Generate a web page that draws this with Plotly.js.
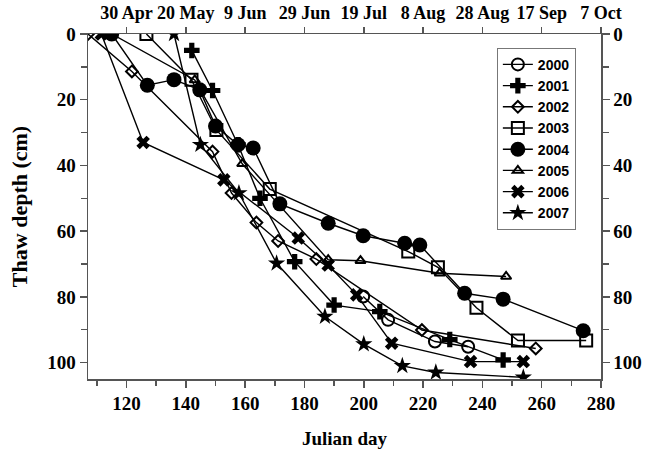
<!DOCTYPE html>
<html>
<head>
<meta charset="utf-8">
<script src="https://cdn.plot.ly/plotly-3.0.1.min.js"></script>
<style>html,body{margin:0;padding:0;background:#fff;}#chart{width:649px;height:453px;}</style>
</head>
<body>
<div id="chart"></div>
<script>
// Julian day / thaw depth (cm) per year
const years = ['2000','2001','2002','2003','2004','2005','2006','2007'];
const day2000 = [199.8, 208.2, 224, 235.2];
const depth2000 = [79.9, 87, 93.6, 95.2];
const day2001 = [142, 149, 157.6, 165, 176.7, 190, 205.4, 229, 247];
const depth2001 = [5, 17.2, 33.7, 50, 69.3, 82.5, 84.5, 93, 99.2];
const day2002 = [107, 121.8, 149, 155.4, 163.8, 171.1, 184, 219.6, 258];
const depth2002 = [0, 11.4, 35.8, 48.4, 57.4, 63, 68.5, 90.1, 95.7];
const day2003 = [126.7, 141.9, 150.3, 168.3, 215, 225, 238, 252, 275];
const depth2003 = [0, 13.9, 29.2, 47.2, 66.2, 71, 83.3, 93.3, 93.3];
const day2004 = [115, 127, 136, 144.7, 150, 157.6, 162.7, 171.7, 188, 199.8, 213.8, 218.9, 234, 247, 274];
const depth2004 = [0, 15.6, 13.9, 17, 28, 33.7, 34.7, 51.7, 57.6, 61.4, 63.7, 64.2, 78.9, 80.7, 90.3];
const day2005 = [115, 143, 159, 188, 198.9, 225.6, 248];
const depth2005 = [0, 14, 39.5, 68.7, 69, 72.8, 73.8];
const day2006 = [111.5, 125.6, 152.8, 177.9, 188, 197.6, 209.4, 236, 253.8];
const depth2006 = [0, 33, 44.4, 62.1, 70.3, 79.4, 94.1, 99.7, 99.7];
const day2007 = [136, 144.9, 157.9, 170.6, 186.9, 200, 213, 224.3, 253.8];
const depth2007 = [0, 33.7, 48.4, 69.8, 86, 94.4, 101, 103, 104.5];

const bottomTicks = [120, 140, 160, 180, 200, 220, 240, 260, 280];
const topTickText = ['30 Apr', '20 May', '9 Jun', '29 Jun', '19 Jul', '8 Aug', '28 Aug', '17 Sep', '7 Oct'];
const depthTicks = [0, 20, 40, 60, 80, 100];

const seriesX = [day2000, day2001, day2002, day2003, day2004, day2005, day2006, day2007];
const seriesY = [depth2000, depth2001, depth2002, depth2003, depth2004, depth2005, depth2006, depth2007];
const symbols = ['circle-open', 'cross', 'diamond-open', 'square-open', 'circle', 'triangle-up-open', 'x', 'star'];
const sizes = [12, 13, 9, 12, 15, 9, 12, 13];

const traces = years.map((y, i) => ({
  type: 'scatter', mode: 'lines+markers', name: y,
  x: seriesX[i], y: seriesY[i],
  line: {color: '#000', width: 1.4},
  marker: {symbol: symbols[i], size: sizes[i], color: '#000',
           line: {color: '#000', width: (symbols[i].indexOf('open') >= 0) ? 2 : 0}},
  hoverinfo: 'skip'
}));
// carrier for the top/right axes
traces.push({type: 'scatter', mode: 'markers', x: bottomTicks, y: bottomTicks.map(() => null),
  xaxis: 'x2', yaxis: 'y2', showlegend: false, hoverinfo: 'skip'});

const serif = 'Liberation Serif, Times New Roman, serif';
const axisCol = '#555';
const common = {showline: true, linecolor: axisCol, linewidth: 1.5, ticks: 'outside',
  tickcolor: axisCol, tickwidth: 1.5, ticklen: 7, showgrid: false, zeroline: false,
  tickfont: {family: serif, size: 19, color: '#000', weight: 'bold'}};

const layout = {
  width: 649, height: 453,
  margin: {l: 88, r: 48, t: 34, b: 74},
  paper_bgcolor: '#fff', plot_bgcolor: '#fff',
  showlegend: true,
  legend: {x: 0.797, y: 0.96, xanchor: 'left', yanchor: 'top',
    bordercolor: '#777', borderwidth: 1, bgcolor: '#fff',
    font: {family: 'Liberation Sans, Arial, sans-serif', size: 14, color: '#000', weight: 'bold'},
    itemwidth: 30, tracegroupgap: 0},
  xaxis: Object.assign({}, common, {range: [107, 280], tickvals: bottomTicks,
    minor: {dtick: 10, tick0: 0, ticks: 'outside', ticklen: 5, tickcolor: axisCol, tickwidth: 1.5},
    title: {text: 'Julian day', font: {family: serif, size: 19, color: '#000', weight: 'bold'}, standoff: 18}}),
  xaxis2: Object.assign({}, common, {range: [107, 280], overlaying: 'x', side: 'top',
    tickvals: bottomTicks, ticktext: topTickText, ticklen: 6,
    tickfont: {family: serif, size: 18, color: '#000', weight: 'bold'}}),
  yaxis: Object.assign({}, common, {range: [105, 0], tickvals: depthTicks,
    minor: {dtick: 10, tick0: 0, ticks: 'outside', ticklen: 6, tickcolor: axisCol, tickwidth: 1.5},
    title: {text: 'Thaw depth (cm)', font: {family: serif, size: 22, color: '#000', weight: 'bold'}, standoff: 13}}),
  yaxis2: Object.assign({}, common, {range: [105, 0], overlaying: 'y', side: 'right', tickvals: depthTicks,
    minor: {dtick: 10, tick0: 0, ticks: 'outside', ticklen: 6, tickcolor: axisCol, tickwidth: 1.5}})
};

Plotly.newPlot('chart', traces, layout, {displayModeBar: false, staticPlot: true});
</script>
</body>
</html>
